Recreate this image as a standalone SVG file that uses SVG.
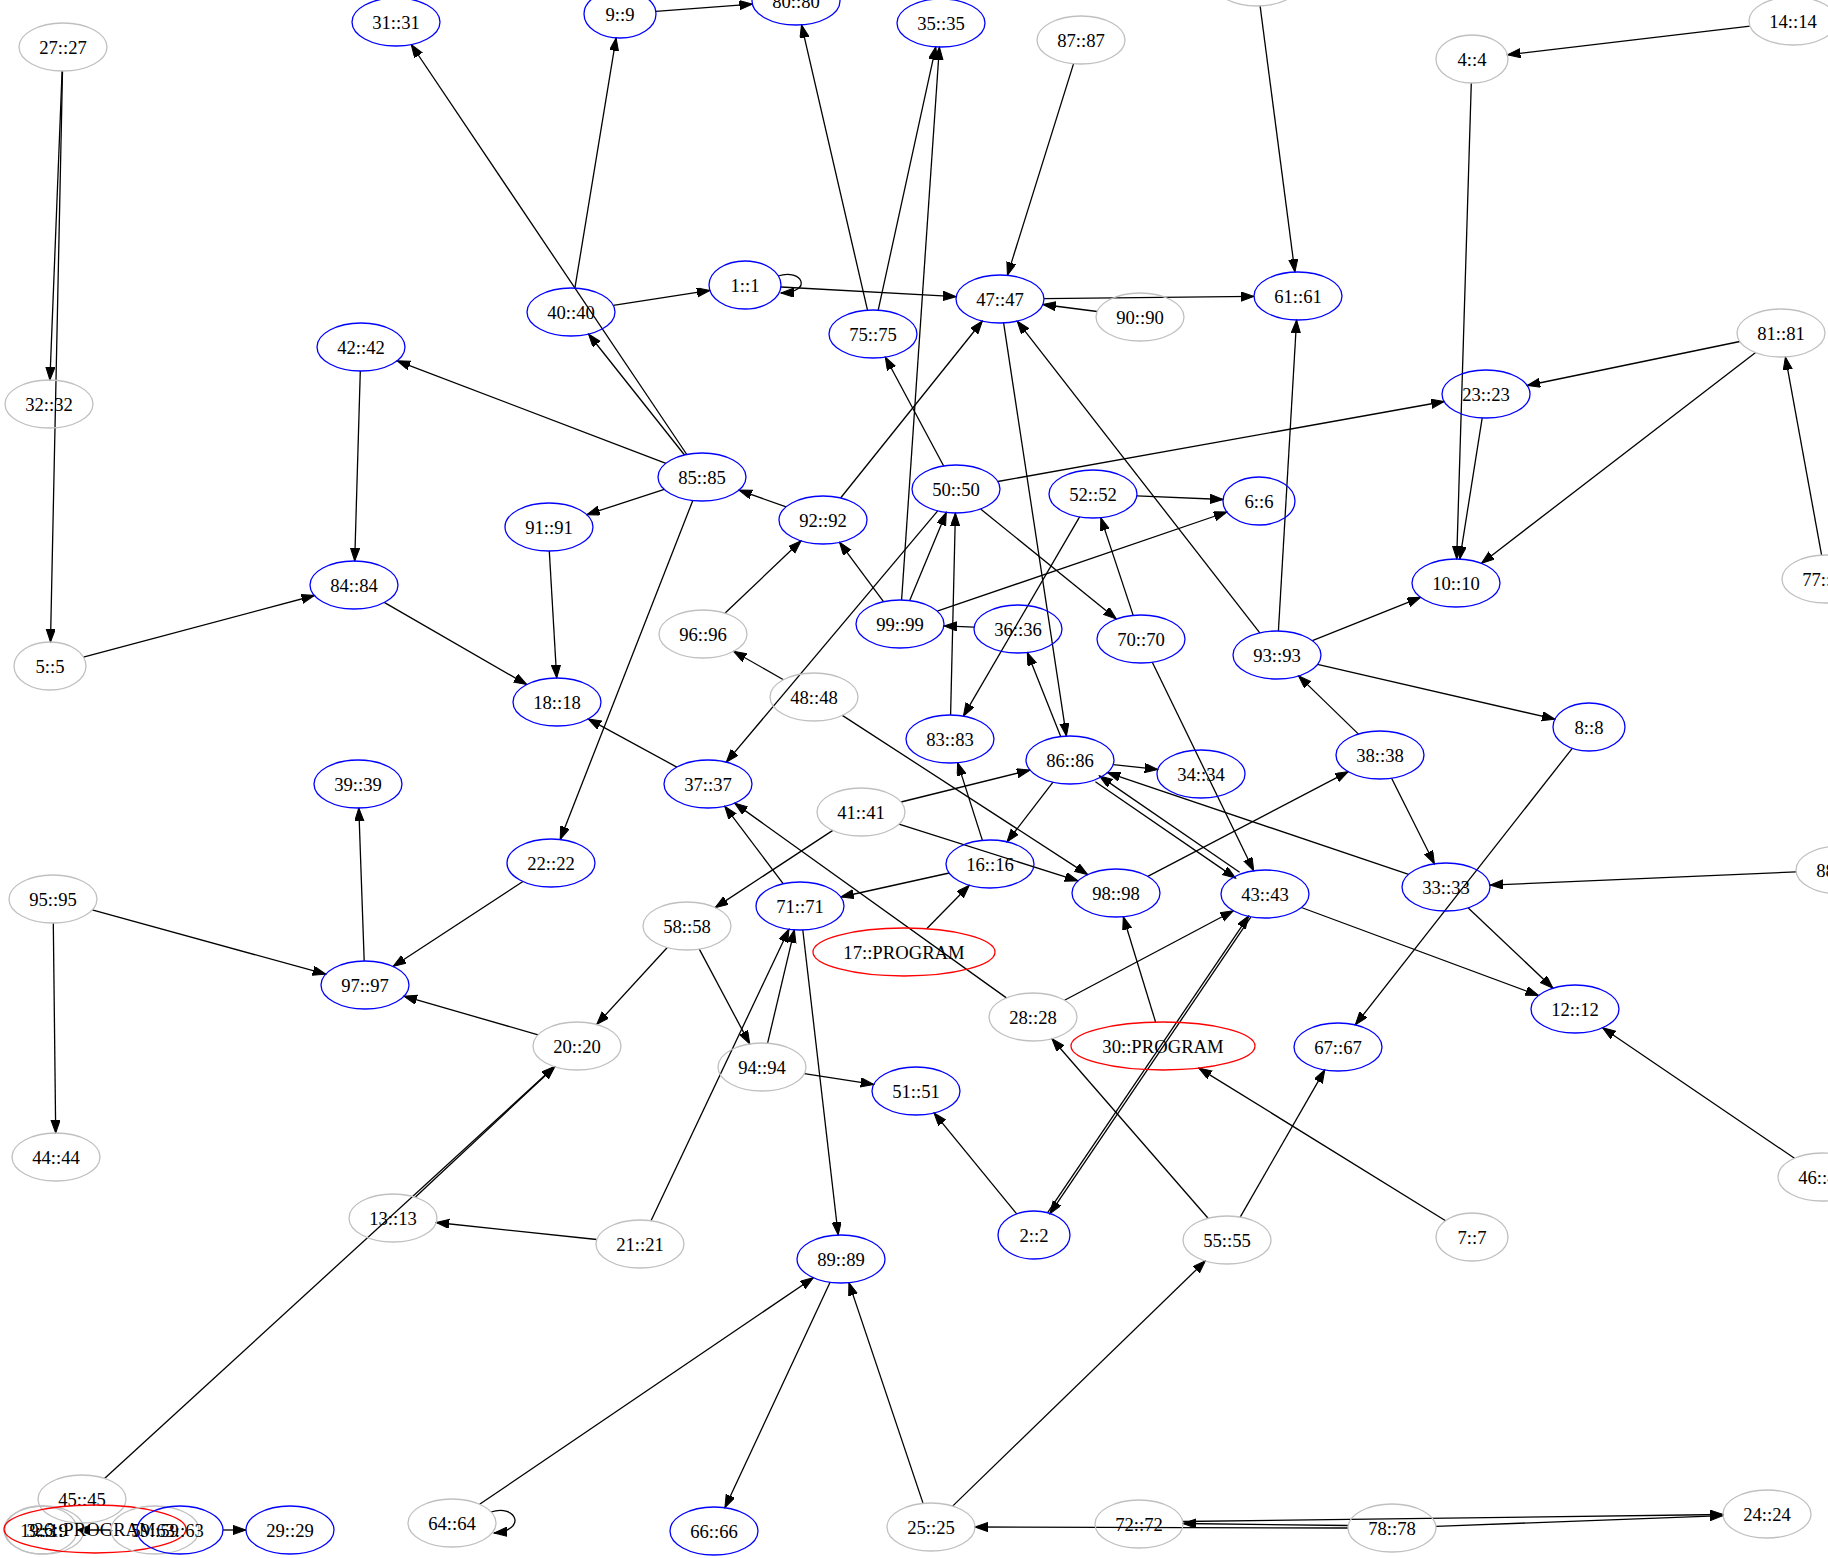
<svg xmlns="http://www.w3.org/2000/svg" width="1828" height="1558" viewBox="0 0 1828 1558">
<style>
  .n ellipse { fill: none; stroke-width: 1.3; }
  .b ellipse { stroke: #0000ff; }
  .g ellipse { stroke: #c0c0c0; }
  .r ellipse { stroke: #ff0000; }
  .n text { font-family: "Liberation Serif", "Times New Roman", serif; font-size: 18.67px; text-anchor: middle; fill: #000; }
  #edges line, #edges path { stroke: #000; stroke-width: 1.3; fill: none; marker-end: url(#ah); }
</style>
<defs>
  <marker id="ah" markerUnits="userSpaceOnUse" markerWidth="14" markerHeight="10" refX="13" refY="4.6" orient="auto">
    <path d="M0,0 L13,4.6 L0,9.2 z" fill="#000" stroke="#000" stroke-width="1"/>
  </marker>
</defs>
<rect width="1828" height="1558" fill="#fff"/>

<g id="edges">
  <line x1="62.1" y1="71" x2="49.9" y2="380"/>
  <line x1="62.5" y1="71" x2="50.5" y2="642"/>
  <line x1="686.8" y1="454.5" x2="411.2" y2="44.5"/>
  <line x1="574.9" y1="288.1" x2="616.1" y2="37.9"/>
  <line x1="655.8" y1="11.4" x2="752.4" y2="4.2"/>
  <line x1="613.3" y1="305.4" x2="709.9" y2="290.4"/>
  <path d="M778,276 C802,268 814,292 781,293"/>
  <line x1="780.9" y1="287" x2="956.2" y2="296.6"/>
  <line x1="867.5" y1="310.2" x2="801.5" y2="24.8"/>
  <line x1="878.2" y1="310.2" x2="935.8" y2="46.8"/>
  <line x1="901.6" y1="600" x2="939.4" y2="47"/>
  <line x1="1073.6" y1="63.6" x2="1007.4" y2="275.4"/>
  <line x1="1044" y1="298.6" x2="1254" y2="296.4"/>
  <line x1="1097.2" y1="311.5" x2="1042.8" y2="304.5"/>
  <line x1="1260.1" y1="5.9" x2="1294.9" y2="272.1"/>
  <line x1="1750" y1="26.1" x2="1507.4" y2="54.8"/>
  <line x1="1471.3" y1="83" x2="1456.7" y2="559"/>
  <line x1="1482.2" y1="417.9" x2="1459.8" y2="559.1"/>
  <line x1="1739.8" y1="341.5" x2="1527.2" y2="385.5"/>
  <line x1="1755.6" y1="352.6" x2="1481.4" y2="563.4"/>
  <line x1="1821.6" y1="555.1" x2="1785.4" y2="356.9"/>
  <line x1="997.8" y1="481.5" x2="1444.2" y2="401.5"/>
  <line x1="1278.4" y1="631" x2="1296.6" y2="320"/>
  <line x1="1259.8" y1="632.9" x2="1017.2" y2="321.1"/>
  <line x1="1003.6" y1="322.9" x2="1066.4" y2="736.1"/>
  <line x1="665.9" y1="463.3" x2="397.1" y2="360.8"/>
  <line x1="684.5" y1="455" x2="588.5" y2="334"/>
  <line x1="664.3" y1="489.3" x2="586.7" y2="514.7"/>
  <line x1="692.8" y1="500.5" x2="560.2" y2="839.5"/>
  <line x1="786.1" y1="506.9" x2="738.9" y2="490.1"/>
  <line x1="840.6" y1="498" x2="982.4" y2="321"/>
  <line x1="943.7" y1="466" x2="885.3" y2="357"/>
  <line x1="937.7" y1="510.8" x2="726.3" y2="762.2"/>
  <line x1="980.6" y1="508.9" x2="1116.4" y2="619.1"/>
  <line x1="1136.9" y1="495.9" x2="1223.1" y2="499.5"/>
  <line x1="937.2" y1="611.2" x2="1227" y2="512"/>
  <line x1="1079.6" y1="516.9" x2="963.4" y2="716.1"/>
  <line x1="1133.2" y1="615.4" x2="1100.8" y2="517.6"/>
  <line x1="883.5" y1="601.7" x2="839.5" y2="542.3"/>
  <line x1="909.7" y1="600.6" x2="946.3" y2="512.4"/>
  <line x1="950.6" y1="715" x2="955.4" y2="513"/>
  <line x1="974" y1="627.1" x2="944" y2="625.9"/>
  <line x1="724.9" y1="613.2" x2="801.1" y2="540.8"/>
  <line x1="783.5" y1="679.7" x2="733.5" y2="651.3"/>
  <line x1="842.3" y1="715.4" x2="1087.7" y2="874.6"/>
  <line x1="1060.7" y1="736.5" x2="1027.3" y2="652.5"/>
  <line x1="1113.2" y1="764.6" x2="1157.8" y2="769.4"/>
  <line x1="1053" y1="782.1" x2="1007" y2="841.9"/>
  <line x1="901" y1="802" x2="1030" y2="770"/>
  <line x1="899" y1="824.1" x2="1078" y2="880.9"/>
  <line x1="832.8" y1="830.4" x2="715.2" y2="907.6"/>
  <line x1="982.4" y1="840.4" x2="957.6" y2="762.6"/>
  <line x1="949.2" y1="873" x2="840.8" y2="897"/>
  <line x1="926.7" y1="928.8" x2="969.3" y2="885.2"/>
  <line x1="783.3" y1="883.8" x2="724.7" y2="806.2"/>
  <line x1="1006.4" y1="997.9" x2="734.6" y2="803.1"/>
  <line x1="1064.6" y1="1000.3" x2="1233.4" y2="910.7"/>
  <line x1="1408.6" y1="874.4" x2="1107.4" y2="772.6"/>
  <line x1="1239.6" y1="872.3" x2="1099.4" y2="775.9"/>
  <line x1="1095.4" y1="781.7" x2="1235.6" y2="878.1"/>
  <line x1="1152.3" y1="662.2" x2="1253.7" y2="870.8"/>
  <line x1="1147.8" y1="876.4" x2="1348.2" y2="771.6"/>
  <line x1="1312.4" y1="640.7" x2="1420.6" y2="597.3"/>
  <line x1="1317.5" y1="664.3" x2="1555" y2="719.2"/>
  <line x1="1358.5" y1="734.1" x2="1298.5" y2="675.9"/>
  <line x1="1391.6" y1="778.2" x2="1434.4" y2="863.8"/>
  <line x1="1796" y1="871.9" x2="1490" y2="885.1"/>
  <line x1="1468" y1="907.8" x2="1553" y2="988.2"/>
  <line x1="1301.4" y1="907.5" x2="1538.6" y2="995.5"/>
  <line x1="1572.3" y1="748.3" x2="1355.3" y2="1024.9"/>
  <line x1="1794.5" y1="1158.3" x2="1602.5" y2="1027.7"/>
  <line x1="1155.6" y1="1022.1" x2="1123.3" y2="916.7"/>
  <line x1="1250.8" y1="917.2" x2="1049.8" y2="1213.8"/>
  <line x1="1047.8" y1="1212.4" x2="1248.8" y2="915.8"/>
  <line x1="1208.1" y1="1218.3" x2="1051.9" y2="1038.7"/>
  <line x1="1240.2" y1="1217.1" x2="1324.8" y2="1069.9"/>
  <line x1="1445.6" y1="1220.7" x2="1198.8" y2="1068.1"/>
  <line x1="804.3" y1="1073.6" x2="873.7" y2="1084.4"/>
  <line x1="1016.7" y1="1213.9" x2="934" y2="1112.9"/>
  <line x1="699.3" y1="949.1" x2="749.7" y2="1043.9"/>
  <line x1="767.6" y1="1043.2" x2="794.4" y2="929.8"/>
  <line x1="651" y1="1220.8" x2="789" y2="929.2"/>
  <line x1="802.8" y1="930" x2="838.2" y2="1235"/>
  <line x1="667.3" y1="947.5" x2="596.7" y2="1024.5"/>
  <line x1="538.1" y1="1034.8" x2="403.9" y2="996.2"/>
  <line x1="522.9" y1="881.5" x2="393.1" y2="966.5"/>
  <line x1="92.2" y1="909.8" x2="325.8" y2="974.2"/>
  <line x1="364.2" y1="961" x2="358.8" y2="808"/>
  <line x1="53.3" y1="923" x2="55.7" y2="1133"/>
  <line x1="104.5" y1="1478.4" x2="554.5" y2="1066.6"/>
  <line x1="415.2" y1="1197.3" x2="554.8" y2="1066.7"/>
  <line x1="596.8" y1="1239.5" x2="436.2" y2="1222.5"/>
  <line x1="384.2" y1="602.4" x2="526.8" y2="684.6"/>
  <line x1="83.4" y1="657.1" x2="314.5" y2="595.5"/>
  <line x1="360.3" y1="371" x2="354.7" y2="561"/>
  <line x1="549.3" y1="551" x2="556.7" y2="678"/>
  <line x1="676.8" y1="767.1" x2="588.2" y2="718.9"/>
  <line x1="479.6" y1="1504.3" x2="813.4" y2="1277.7"/>
  <path d="M491,1512 C516,1504 528,1530 494,1533"/>
  <line x1="830.1" y1="1282.3" x2="724.9" y2="1507.7"/>
  <line x1="923.1" y1="1503.4" x2="848.9" y2="1282.6"/>
  <line x1="952.6" y1="1506.1" x2="1205.4" y2="1260.9"/>
  <line x1="1348" y1="1528" x2="975" y2="1527"/>
  <line x1="1348" y1="1525.5" x2="1183" y2="1523.5"/>
  <line x1="1183" y1="1521.5" x2="1723" y2="1514.5"/>
  <line x1="1436" y1="1526.4" x2="1723" y2="1515.6"/>
  <line x1="111" y1="1530" x2="77" y2="1530"/>
  <line x1="223" y1="1530" x2="246" y2="1530"/>
</g>

<g id="n27" class="n g"><ellipse cx="63" cy="47" rx="44" ry="24"/><text x="63" y="53.5">27::27</text></g>
<g id="n31" class="n b"><ellipse cx="396" cy="22" rx="44" ry="24"/><text x="396" y="28.5">31::31</text></g>
<g id="n9" class="n b"><ellipse cx="620" cy="14" rx="36" ry="24"/><text x="620" y="20.5">9::9</text></g>
<g id="n80" class="n b"><ellipse cx="796" cy="1" rx="44" ry="24"/><text x="796" y="7.5">80::80</text></g>
<g id="n35" class="n b"><ellipse cx="941" cy="23" rx="44" ry="24"/><text x="941" y="29.5">35::35</text></g>
<g id="n87" class="n g"><ellipse cx="1081" cy="40" rx="44" ry="24"/><text x="1081" y="46.5">87::87</text></g>
<g id="ntop" class="n g"><ellipse cx="1257" cy="-18" rx="44" ry="24"/></g>
<g id="n14" class="n g"><ellipse cx="1793" cy="21" rx="44" ry="24"/><text x="1793" y="27.5">14::14</text></g>
<g id="n4" class="n g"><ellipse cx="1472" cy="59" rx="36" ry="24"/><text x="1472" y="65.5">4::4</text></g>
<g id="n32" class="n g"><ellipse cx="49" cy="404" rx="44" ry="24"/><text x="49" y="410.5">32::32</text></g>
<g id="n40" class="n b"><ellipse cx="571" cy="312" rx="44" ry="24"/><text x="571" y="318.5">40::40</text></g>
<g id="n42" class="n b"><ellipse cx="361" cy="347" rx="44" ry="24"/><text x="361" y="353.5">42::42</text></g>
<g id="n1" class="n b"><ellipse cx="745" cy="285" rx="36" ry="24"/><text x="745" y="291.5">1::1</text></g>
<g id="n47" class="n b"><ellipse cx="1000" cy="299" rx="44" ry="24"/><text x="1000" y="305.5">47::47</text></g>
<g id="n75" class="n b"><ellipse cx="873" cy="334" rx="44" ry="24"/><text x="873" y="340.5">75::75</text></g>
<g id="n90" class="n g"><ellipse cx="1140" cy="317" rx="44" ry="24"/><text x="1140" y="323.5">90::90</text></g>
<g id="n61" class="n b"><ellipse cx="1298" cy="296" rx="44" ry="24"/><text x="1298" y="302.5">61::61</text></g>
<g id="n81" class="n g"><ellipse cx="1781" cy="333" rx="44" ry="24"/><text x="1781" y="339.5">81::81</text></g>
<g id="n23" class="n b"><ellipse cx="1486" cy="394" rx="44" ry="24"/><text x="1486" y="400.5">23::23</text></g>
<g id="n85" class="n b"><ellipse cx="702" cy="477" rx="44" ry="24"/><text x="702" y="483.5">85::85</text></g>
<g id="n50" class="n b"><ellipse cx="956" cy="489" rx="44" ry="24"/><text x="956" y="495.5">50::50</text></g>
<g id="n52" class="n b"><ellipse cx="1093" cy="494" rx="44" ry="24"/><text x="1093" y="500.5">52::52</text></g>
<g id="n6" class="n b"><ellipse cx="1259" cy="501" rx="36" ry="24"/><text x="1259" y="507.5">6::6</text></g>
<g id="n92" class="n b"><ellipse cx="823" cy="520" rx="44" ry="24"/><text x="823" y="526.5">92::92</text></g>
<g id="n91" class="n b"><ellipse cx="549" cy="527" rx="44" ry="24"/><text x="549" y="533.5">91::91</text></g>
<g id="n84" class="n b"><ellipse cx="354" cy="585" rx="44" ry="24"/><text x="354" y="591.5">84::84</text></g>
<g id="n5" class="n g"><ellipse cx="50" cy="666" rx="36" ry="24"/><text x="50" y="672.5">5::5</text></g>
<g id="n18" class="n b"><ellipse cx="557" cy="702" rx="44" ry="24"/><text x="557" y="708.5">18::18</text></g>
<g id="n10" class="n b"><ellipse cx="1456" cy="583" rx="44" ry="24"/><text x="1456" y="589.5">10::10</text></g>
<g id="n77" class="n g"><ellipse cx="1826" cy="579" rx="44" ry="24"/><text x="1826" y="585.5">77::77</text></g>
<g id="n99" class="n b"><ellipse cx="900" cy="624" rx="44" ry="24"/><text x="900" y="630.5">99::99</text></g>
<g id="n36" class="n b"><ellipse cx="1018" cy="629" rx="44" ry="24"/><text x="1018" y="635.5">36::36</text></g>
<g id="n70" class="n b"><ellipse cx="1141" cy="639" rx="44" ry="24"/><text x="1141" y="645.5">70::70</text></g>
<g id="n96" class="n g"><ellipse cx="703" cy="634" rx="44" ry="24"/><text x="703" y="640.5">96::96</text></g>
<g id="n93" class="n b"><ellipse cx="1277" cy="655" rx="44" ry="24"/><text x="1277" y="661.5">93::93</text></g>
<g id="n48" class="n g"><ellipse cx="814" cy="697" rx="44" ry="24"/><text x="814" y="703.5">48::48</text></g>
<g id="n8" class="n b"><ellipse cx="1589" cy="727" rx="36" ry="24"/><text x="1589" y="733.5">8::8</text></g>
<g id="n83" class="n b"><ellipse cx="950" cy="739" rx="44" ry="24"/><text x="950" y="745.5">83::83</text></g>
<g id="n86" class="n b"><ellipse cx="1070" cy="760" rx="44" ry="24"/><text x="1070" y="766.5">86::86</text></g>
<g id="n34" class="n b"><ellipse cx="1201" cy="774" rx="44" ry="24"/><text x="1201" y="780.5">34::34</text></g>
<g id="n38" class="n b"><ellipse cx="1380" cy="755" rx="44" ry="24"/><text x="1380" y="761.5">38::38</text></g>
<g id="n37" class="n b"><ellipse cx="708" cy="784" rx="44" ry="24"/><text x="708" y="790.5">37::37</text></g>
<g id="n39" class="n b"><ellipse cx="358" cy="784" rx="44" ry="24"/><text x="358" y="790.5">39::39</text></g>
<g id="n41" class="n g"><ellipse cx="861" cy="812" rx="44" ry="24"/><text x="861" y="818.5">41::41</text></g>
<g id="n16" class="n b"><ellipse cx="990" cy="864" rx="44" ry="24"/><text x="990" y="870.5">16::16</text></g>
<g id="n22" class="n b"><ellipse cx="551" cy="863" rx="44" ry="24"/><text x="551" y="869.5">22::22</text></g>
<g id="n33" class="n b"><ellipse cx="1446" cy="887" rx="44" ry="24"/><text x="1446" y="893.5">33::33</text></g>
<g id="n88" class="n g"><ellipse cx="1840" cy="870" rx="44" ry="24"/><text x="1840" y="876.5">88::88</text></g>
<g id="n98" class="n b"><ellipse cx="1116" cy="893" rx="44" ry="24"/><text x="1116" y="899.5">98::98</text></g>
<g id="n43" class="n b"><ellipse cx="1265" cy="894" rx="44" ry="24"/><text x="1265" y="900.5">43::43</text></g>
<g id="n95" class="n g"><ellipse cx="53" cy="899" rx="44" ry="24"/><text x="53" y="905.5">95::95</text></g>
<g id="n71" class="n b"><ellipse cx="800" cy="906" rx="44" ry="24"/><text x="800" y="912.5">71::71</text></g>
<g id="n58" class="n g"><ellipse cx="687" cy="926" rx="44" ry="24"/><text x="687" y="932.5">58::58</text></g>
<g id="n17" class="n r"><ellipse cx="904" cy="952" rx="91" ry="24"/><text x="904" y="958.5">17::PROGRAM</text></g>
<g id="n97" class="n b"><ellipse cx="365" cy="985" rx="44" ry="24"/><text x="365" y="991.5">97::97</text></g>
<g id="n12" class="n b"><ellipse cx="1575" cy="1009" rx="44" ry="24"/><text x="1575" y="1015.5">12::12</text></g>
<g id="n28" class="n g"><ellipse cx="1033" cy="1017" rx="44" ry="24"/><text x="1033" y="1023.5">28::28</text></g>
<g id="n30" class="n r"><ellipse cx="1163" cy="1046" rx="92" ry="24"/><text x="1163" y="1052.5">30::PROGRAM</text></g>
<g id="n20" class="n g"><ellipse cx="577" cy="1046" rx="44" ry="24"/><text x="577" y="1052.5">20::20</text></g>
<g id="n67" class="n b"><ellipse cx="1338" cy="1047" rx="44" ry="24"/><text x="1338" y="1053.5">67::67</text></g>
<g id="n94" class="n g"><ellipse cx="762" cy="1067" rx="44" ry="24"/><text x="762" y="1073.5">94::94</text></g>
<g id="n51" class="n b"><ellipse cx="916" cy="1091" rx="44" ry="24"/><text x="916" y="1097.5">51::51</text></g>
<g id="n44" class="n g"><ellipse cx="56" cy="1157" rx="44" ry="24"/><text x="56" y="1163.5">44::44</text></g>
<g id="n46" class="n g"><ellipse cx="1822" cy="1177" rx="44" ry="24"/><text x="1822" y="1183.5">46::46</text></g>
<g id="n13" class="n g"><ellipse cx="393" cy="1218" rx="44" ry="24"/><text x="393" y="1224.5">13::13</text></g>
<g id="n2" class="n b"><ellipse cx="1034" cy="1235" rx="36" ry="24"/><text x="1034" y="1241.5">2::2</text></g>
<g id="n55" class="n g"><ellipse cx="1227" cy="1240" rx="44" ry="24"/><text x="1227" y="1246.5">55::55</text></g>
<g id="n7" class="n g"><ellipse cx="1472" cy="1237" rx="36" ry="24"/><text x="1472" y="1243.5">7::7</text></g>
<g id="n21" class="n g"><ellipse cx="640" cy="1244" rx="44" ry="24"/><text x="640" y="1250.5">21::21</text></g>
<g id="n89" class="n b"><ellipse cx="841" cy="1259" rx="44" ry="24"/><text x="841" y="1265.5">89::89</text></g>
<g id="n45" class="n g"><ellipse cx="82" cy="1499" rx="44" ry="24"/><text x="82" y="1505.5">45::45</text></g>
<g id="n64" class="n g"><ellipse cx="452" cy="1523" rx="44" ry="24"/><text x="452" y="1529.5">64::64</text></g>
<g id="n29" class="n b"><ellipse cx="290" cy="1530" rx="44" ry="24"/><text x="290" y="1536.5">29::29</text></g>
<g id="n66" class="n b"><ellipse cx="714" cy="1531" rx="44" ry="24"/><text x="714" y="1537.5">66::66</text></g>
<g id="n25" class="n g"><ellipse cx="931" cy="1527" rx="44" ry="24"/><text x="931" y="1533.5">25::25</text></g>
<g id="n72" class="n g"><ellipse cx="1139" cy="1524" rx="44" ry="24"/><text x="1139" y="1530.5">72::72</text></g>
<g id="n78" class="n g"><ellipse cx="1392" cy="1528" rx="44" ry="24"/><text x="1392" y="1534.5">78::78</text></g>
<g id="n24" class="n g"><ellipse cx="1767" cy="1514" rx="44" ry="24"/><text x="1767" y="1520.5">24::24</text></g>
<g id="n3" class="n g"><ellipse cx="41" cy="1530" rx="36" ry="24"/><text x="41" y="1536.5">3::3</text></g>
<g id="n19" class="n g"><ellipse cx="44" cy="1530" rx="40" ry="24"/><text x="44" y="1536.5">19::19</text></g>
<g id="n26" class="n r"><ellipse cx="95" cy="1529" rx="91" ry="24"/><text x="95" y="1535.5">26::PROGRAM</text></g>
<g id="n59" class="n g"><ellipse cx="155" cy="1530" rx="44" ry="24"/><text x="155" y="1536.5">59::59</text></g>
<g id="n63" class="n b"><ellipse cx="180" cy="1530" rx="43" ry="24"/><text x="180" y="1536.5">63::63</text></g>
</svg>
